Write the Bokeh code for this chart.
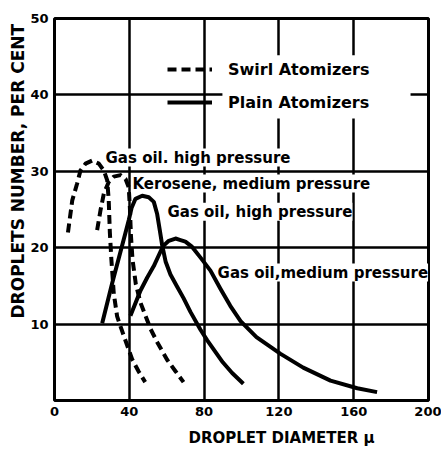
from bokeh.plotting import figure
from bokeh.models import (FixedTicker, Label, Legend, LegendItem, BoxAnnotation, Title)
from bokeh.embed import file_html
from bokeh.resources import INLINE

# ---- data ----
swirl_gasoil_hp_x = [7.2, 9.5, 12.1, 13.9, 16.6, 20.1, 23.7, 26.4, 28.2, 29.0, 29.6, 30.4, 31.7, 33.5, 36.0, 41.5, 45.0, 48.5]
swirl_gasoil_hp_y = [22.0, 26.2, 28.4, 30.1, 31.0, 31.4, 31.0, 30.1, 28.8, 26.2, 22.0, 18.5, 14.0, 11.0, 9.2, 5.4, 3.8, 2.4]

swirl_kero_mp_x = [22.8, 24.6, 26.4, 29.0, 31.7, 35.3, 38.0, 39.7, 40.3, 40.9, 41.7, 43.5, 46.0, 51.3, 55.0, 60.3, 64.5, 69.0]
swirl_kero_mp_y = [22.3, 24.9, 27.1, 28.6, 29.3, 29.5, 29.0, 27.9, 25.3, 21.5, 18.5, 15.2, 12.8, 9.4, 7.6, 5.3, 3.9, 2.4]

plain_gasoil_hp_x = [25.5, 30.8, 35.0, 38.0, 39.7, 41.2, 43.3, 46.9, 50.4, 53.1, 54.9, 56.3, 57.6, 59.4, 62.0, 65.6, 69.0, 72.7, 78.0, 81.6, 90.0, 95.0, 101.0]
plain_gasoil_hp_y = [10.1, 15.3, 19.2, 22.0, 23.6, 25.2, 26.4, 26.8, 26.6, 26.0, 24.4, 22.3, 20.3, 18.2, 16.5, 14.9, 13.4, 11.6, 9.3, 7.9, 5.0, 3.6, 2.2]

plain_gasoil_mp_x = [40.6, 46.0, 49.6, 53.1, 56.7, 58.5, 61.1, 64.7, 67.4, 70.0, 73.6, 78.1, 83.4, 88.8, 94.0, 99.5, 108.0, 120.9, 133.0, 147.6, 161.9, 172.5]
plain_gasoil_mp_y = [11.1, 14.4, 16.1, 17.6, 19.5, 20.3, 20.9, 21.2, 21.0, 20.8, 20.1, 18.7, 17.0, 14.6, 12.4, 10.4, 8.3, 6.1, 4.3, 2.6, 1.6, 1.1]

x_ticks = [0, 40, 80, 120, 160, 200]
y_ticks = [10, 20, 30, 40, 50]
legend_labels = ["Swirl Atomizers", "Plain Atomizers"]
curve_labels = ["Gas oil. high pressure", "Kerosene, medium pressure",
                "Gas oil, high pressure", "Gas oil,medium pressure"]
x_title = "DROPLET DIAMETER \u03bc"
y_title = "DROPLETS NUMBER, PER CENT"

FONT = "DejaVu Sans"

p = figure(width=441, height=456, x_range=(0, 200), y_range=(0, 50),
           output_backend="svg", toolbar_location=None,
           min_border_left=54, min_border_right=13, min_border_top=18, min_border_bottom=56)
p.background_fill_color = "white"
p.border_fill_color = "white"
p.outline_line_color = "black"
p.outline_line_width = 3
p.outline_line_alpha = 1

for ax, ticks in ((p.xaxis, x_ticks), (p.yaxis, y_ticks)):
    ax.ticker = FixedTicker(ticks=ticks)
    ax.axis_line_color = None
    ax.major_tick_line_color = None
    ax.minor_tick_line_color = None
    ax.major_tick_out = 0
    ax.major_tick_in = 0
    ax.minor_tick_out = 0
    ax.minor_tick_in = 0
    ax.major_label_text_font = FONT
    ax.major_label_text_font_style = "bold"
    ax.major_label_text_font_size = "13px"
    ax.major_label_text_color = "black"
    ax.major_label_standoff = 6

p.xgrid.ticker = FixedTicker(ticks=x_ticks[1:-1])
p.ygrid.ticker = FixedTicker(ticks=y_ticks[:-1])
for g in (p.xgrid, p.ygrid):
    g.grid_line_color = "black"
    g.grid_line_width = 2.5
    g.grid_line_alpha = 1

# white gap around the legend text (grid interrupted)
p.add_layout(BoxAnnotation(left=89.8, right=190.4, top=45.2, bottom=36.9,
                           fill_color="white", fill_alpha=1, line_color=None,
                           level="underlay"))

# curve labels, with white background interrupting the grid
label_pos = [(27.3, 31.8), (41.7, 28.4), (60.4, 24.7), (87.2, 16.75)]
for txt, (lx, ly) in zip(curve_labels, label_pos):
    p.add_layout(Label(x=lx, y=ly, text=txt, text_font=FONT, text_font_style="bold",
                       text_font_size="15px", text_color="black",
                       text_baseline="middle", text_align="left",
                       background_fill_color="white", background_fill_alpha=1,
                       level="underlay"))

dash = "9 5"
lw = 4
r1 = p.line(swirl_gasoil_hp_x, swirl_gasoil_hp_y, line_color="black", line_width=lw, line_dash=dash, line_join="round")
r2 = p.line(swirl_kero_mp_x, swirl_kero_mp_y, line_color="black", line_width=lw, line_dash=dash, line_join="round")
r3 = p.line(plain_gasoil_hp_x, plain_gasoil_hp_y, line_color="black", line_width=lw, line_join="round")
r4 = p.line(plain_gasoil_mp_x, plain_gasoil_mp_y, line_color="black", line_width=lw, line_join="round")

legend = Legend(items=[LegendItem(label=legend_labels[0], renderers=[r1]),
                       LegendItem(label=legend_labels[1], renderers=[r3])],
                location=(108, 283))
legend.background_fill_alpha = 0
legend.border_line_alpha = 0
legend.glyph_width = 45
legend.glyph_height = 20
legend.label_height = 20
legend.label_standoff = 16
legend.spacing = 13
legend.padding = 5
legend.margin = 0
legend.label_text_font = FONT
legend.label_text_font_style = "bold"
legend.label_text_font_size = "16px"
legend.label_text_color = "black"
p.add_layout(legend, "center")

# axis titles
p.add_layout(Title(text=x_title, align="left", offset=134, text_font=FONT,
                   text_font_style="bold", text_font_size="15px", text_color="black",
                   standoff=17), "below")
p.add_layout(Title(text=y_title, align="left", offset=82, text_font=FONT,
                   text_font_style="bold", text_font_size="17px", text_color="black",
                   standoff=0), "left")

open("out.html", "w").write(file_html(p, INLINE))
